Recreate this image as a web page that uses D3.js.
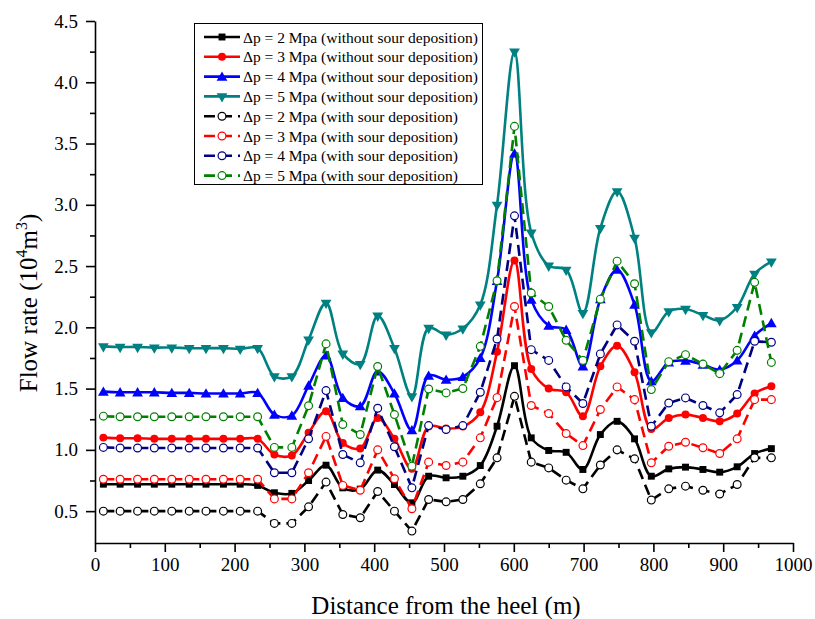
<!DOCTYPE html>
<html>
<head>
<meta charset="utf-8">
<script src="https://cdn.jsdelivr.net/npm/d3@7"></script>
<style>
  body { margin: 0; background: #fff; }
  svg text { font-family: "Liberation Serif", "Times New Roman", "DejaVu Serif", serif; }
</style>
</head>
<body>
<svg id="chart"></svg>
<script>
// distance from the heel (m) of every sample point
const distance = [12, 36, 61, 85, 110, 135, 159, 184, 208, 233, 257, 282, 306, 331, 355, 380, 405, 429, 454, 478,
  503, 527, 552, 576, 601, 625, 650, 675, 699, 724, 748, 773, 797, 822, 846, 871, 895, 920, 945, 969];

// flow rate (10^4 m^3), without sour deposition
const p2Without = [0.72, 0.72, 0.72, 0.72, 0.72, 0.72, 0.72, 0.72, 0.72, 0.71,
  0.65, 0.645, 0.75, 0.875, 0.69, 0.68, 0.835, 0.717, 0.568, 0.785,
  0.772, 0.785, 0.872, 1.193, 1.687, 1.098, 0.995, 0.98, 0.84, 1.125,
  1.233, 1.09, 0.785, 0.845, 0.859, 0.84, 0.818, 0.862, 0.97, 1.01];
const p3Without = [1.10, 1.095, 1.095, 1.09, 1.09, 1.09, 1.09, 1.09, 1.09, 1.09,
  0.962, 0.955, 1.14, 1.315, 1.056, 1.012, 1.26, 1.09, 0.845, 1.19,
  1.175, 1.19, 1.307, 1.80, 2.546, 1.66, 1.50, 1.47, 1.274, 1.682,
  1.85, 1.633, 1.17, 1.26, 1.288, 1.26, 1.233, 1.296, 1.46, 1.52];
const p4Without = [1.475, 1.47, 1.47, 1.47, 1.465, 1.465, 1.46, 1.46, 1.46, 1.465,
  1.288, 1.28, 1.525, 1.77, 1.424, 1.356, 1.64, 1.46, 1.16, 1.606,
  1.573, 1.595, 1.75, 2.38, 3.42, 2.226, 2.014, 1.98, 1.682, 2.23,
  2.47, 2.185, 1.56, 1.714, 1.728, 1.696, 1.655, 1.73, 1.932, 2.035];
const p5Without = [1.845, 1.84, 1.84, 1.835, 1.835, 1.83, 1.83, 1.83, 1.825, 1.83,
  1.60, 1.60, 1.90, 2.20, 1.785, 1.70, 2.095, 1.83, 1.437, 1.995,
  1.94, 1.99, 2.185, 3.0, 4.25, 2.774, 2.503, 2.47, 2.117, 2.81,
  3.11, 2.73, 1.959, 2.13, 2.15, 2.10, 2.057, 2.166, 2.437, 2.537];

// flow rate (10^4 m^3), with sour deposition
const p2With = [0.50, 0.50, 0.50, 0.50, 0.50, 0.50, 0.50, 0.50, 0.50, 0.50,
  0.40, 0.40, 0.535, 0.737, 0.473, 0.446, 0.66, 0.50, 0.337, 0.595,
  0.576, 0.595, 0.723, 0.935, 1.437, 0.90, 0.853, 0.753, 0.682, 0.877,
  1.0, 0.927, 0.59, 0.682, 0.704, 0.67, 0.64, 0.717, 0.935, 0.935];
const p3With = [0.76, 0.76, 0.76, 0.76, 0.76, 0.76, 0.76, 0.76, 0.76, 0.76,
  0.60, 0.60, 0.813, 1.11, 0.71, 0.67, 1.0, 0.764, 0.52, 0.90,
  0.872, 0.90, 1.098, 1.426, 2.17, 1.362, 1.296, 1.133, 1.035, 1.329,
  1.514, 1.41, 0.894, 1.03, 1.062, 1.017, 0.97, 1.09, 1.41, 1.41];
const p4With = [1.02, 1.015, 1.015, 1.015, 1.015, 1.015, 1.015, 1.015, 1.015, 1.015,
  0.813, 0.813, 1.09, 1.484, 0.962, 0.894, 1.34, 1.025, 0.69, 1.198,
  1.166, 1.198, 1.47, 1.905, 2.91, 1.818, 1.73, 1.514, 1.378, 1.783,
  2.02, 1.886, 1.193, 1.383, 1.424, 1.362, 1.302, 1.451, 1.886, 1.878];
const p5With = [1.275, 1.27, 1.27, 1.27, 1.27, 1.27, 1.27, 1.27, 1.27, 1.27,
  1.02, 1.02, 1.36, 1.865, 1.207, 1.125, 1.68, 1.288, 0.867, 1.497,
  1.465, 1.50, 1.845, 2.38, 3.64, 2.28, 2.17, 1.894, 1.73, 2.23,
  2.54, 2.356, 1.492, 1.72, 1.777, 1.70, 1.622, 1.812, 2.367, 1.714];

const legendLabels = [
  "Δp = 2 Mpa (without sour deposition)",
  "Δp = 3 Mpa (without sour deposition)",
  "Δp = 4 Mpa (without sour deposition)",
  "Δp = 5 Mpa (without sour deposition)",
  "Δp = 2 Mpa (with sour deposition)",
  "Δp = 3 Mpa (with sour deposition)",
  "Δp = 4 Mpa (with sour deposition)",
  "Δp = 5 Mpa (with sour deposition)"
];

const xTicks = d3.range(0, 1001, 100);
const yTicks = [0.5, 1.0, 1.5, 2.0, 2.5, 3.0, 3.5, 4.0, 4.5];

const width = 815, height = 619;
const marginLeft = 95, marginRight = 22, marginTop = 21, marginBottom = 76;
const serif = "'Liberation Serif', 'Times New Roman', 'DejaVu Serif', serif";

const series = [
  {values: p2Without, color: "#000000", marker: "square", dashed: false},
  {values: p3Without, color: "#ff0000", marker: "circle", dashed: false},
  {values: p4Without, color: "#0000ff", marker: "triangle", dashed: false},
  {values: p5Without, color: "#008080", marker: "triangleDown", dashed: false},
  {values: p2With, color: "#000000", marker: "open", dashed: true},
  {values: p3With, color: "#ff0000", marker: "open", dashed: true},
  {values: p4With, color: "#000080", marker: "open", dashed: true},
  {values: p5With, color: "#008000", marker: "open", dashed: true}
];
series.forEach((s, i) => s.label = legendLabels[i]);

const svg = d3.select("#chart")
    .attr("width", width)
    .attr("height", height)
    .attr("viewBox", [0, 0, width, height])
    .attr("font-family", serif);

const x = d3.scaleLinear([0, 1000], [marginLeft, width - marginRight]);
const y = d3.scaleLinear([0.24, 4.5], [height - marginBottom, marginTop]);

// minor ticks first, then major ones with labels
svg.append("g")
    .attr("transform", `translate(0,${height - marginBottom})`)
    .call(d3.axisBottom(x).tickValues(d3.range(50, 1000, 100)).tickSize(5).tickFormat(""))
    .call(g => g.select(".domain").remove());
svg.append("g")
    .attr("transform", `translate(0,${height - marginBottom})`)
    .call(d3.axisBottom(x).tickValues(xTicks).tickSize(9).tickSizeOuter(0).tickPadding(6).tickFormat(d3.format("d")))
    .attr("font-family", serif)
    .call(g => g.selectAll("text").attr("font-size", 19));

svg.append("g")
    .attr("transform", `translate(${marginLeft},0)`)
    .call(d3.axisLeft(y).tickValues(d3.range(0.75, 4.5, 0.5)).tickSize(5).tickFormat(""))
    .call(g => g.select(".domain").remove());
svg.append("g")
    .attr("transform", `translate(${marginLeft},0)`)
    .call(d3.axisLeft(y).tickValues(yTicks).tickSize(9).tickSizeOuter(0).tickPadding(8).tickFormat(d3.format(".1f")))
    .attr("font-family", serif)
    .call(g => g.selectAll("text").attr("font-size", 19));

svg.selectAll(".domain, .tick line").attr("stroke-width", 1.6);

svg.append("text")
    .attr("x", 446)
    .attr("y", 614)
    .attr("text-anchor", "middle")
    .attr("font-size", 25)
    .text("Distance from the heel (m)");

const yLabel = svg.append("text")
    .attr("transform", "translate(37,303) rotate(-90)")
    .attr("text-anchor", "middle")
    .attr("font-size", 25);
yLabel.append("tspan").text("Flow rate (10");
yLabel.append("tspan").attr("font-size", 16).attr("dy", -10).text("4");
yLabel.append("tspan").attr("dy", 10).text("m");
yLabel.append("tspan").attr("font-size", 16).attr("dy", -10).text("3");
yLabel.append("tspan").attr("dy", 10).text(")");

const symbolFor = {
  square: d3.symbol(d3.symbolSquare, 48),
  circle: d3.symbol(d3.symbolCircle, 50),
  triangle: d3.symbol(d3.symbolTriangle, 50),
  triangleDown: d3.symbol(d3.symbolTriangle, 50),
  open: d3.symbol(d3.symbolCircle, 48)
};

function drawMarker(g, s) {
  const path = g.append("path").attr("d", symbolFor[s.marker]());
  if (s.marker === "open") {
    path.attr("fill", "#fff").attr("stroke", s.color).attr("stroke-width", 1.2);
  } else {
    path.attr("fill", s.color);
  }
  if (s.marker === "triangleDown") path.attr("transform", "rotate(180)");
  if (s.marker === "triangle") path.attr("transform", "translate(0,1)");
  return path;
}

const smooth = d3.line()
    .x((d, i) => x(distance[i]))
    .y(d => y(d))
    .curve(d3.curveCatmullRom.alpha(0.5));
const straight = d3.line()
    .x((d, i) => x(distance[i]))
    .y(d => y(d));

for (const s of series) {
  svg.append("path")
      .datum(s.values)
      .attr("fill", "none")
      .attr("stroke", s.color)
      .attr("stroke-width", 2.6)
      .attr("stroke-dasharray", s.dashed ? "11,6" : null)
      .attr("d", s.dashed ? straight : smooth);

  const marks = svg.append("g");
  s.values.forEach((v, i) => {
    const m = marks.append("g").attr("transform", `translate(${x(distance[i])},${y(v)})`);
    drawMarker(m, s);
  });
}

// legend box
const legend = svg.append("g");
legend.append("rect")
    .attr("x", 194.5).attr("y", 23.5)
    .attr("width", 288).attr("height", 161)
    .attr("fill", "#fff")
    .attr("stroke", "#000")
    .attr("stroke-width", 1);

series.forEach((s, i) => {
  const row = legend.append("g").attr("transform", `translate(0,${37 + i * 19.8})`);
  row.append("line")
      .attr("x1", 204).attr("x2", 240)
      .attr("stroke", s.color)
      .attr("stroke-width", 2.6)
      .attr("stroke-dasharray", s.dashed ? "11,6" : null);
  const m = row.append("g").attr("transform", "translate(222,0)");
  drawMarker(m, s);
  row.append("text")
      .attr("x", 243)
      .attr("y", 5.5)
      .attr("font-size", 15.5)
      .text(s.label);
});
</script>
</body>
</html>
